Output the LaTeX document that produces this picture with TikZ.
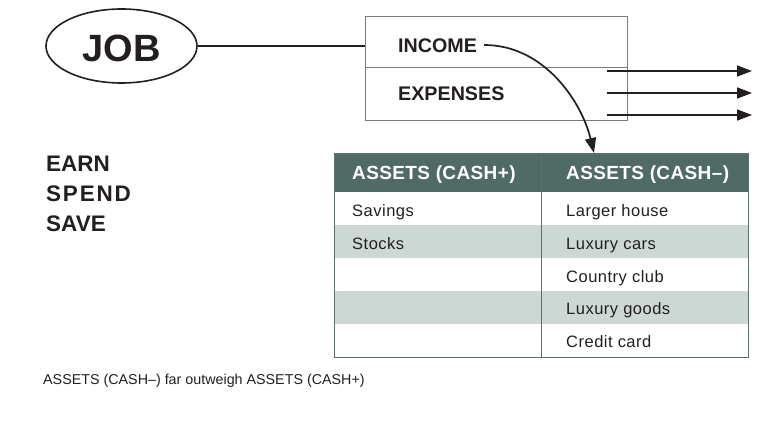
\documentclass[tikz,border=0pt]{standalone}
\usepackage{fontspec}
\setmainfont{Liberation Sans}
\usetikzlibrary{arrows.meta,shapes.geometric}
\definecolor{ink}{HTML}{231F20}
\definecolor{hdrfill}{HTML}{506B66}
\definecolor{band}{HTML}{CDD8D5}
\definecolor{boxline}{HTML}{7A7A7A}
\definecolor{tabline}{HTML}{5E706C}
\tikzset{
  lbl/.style={anchor=base west, inner sep=0pt, text=ink},
  bigbold/.style={lbl, font=\fontsize{22.5}{24}\selectfont\bfseries},
  rowlbl/.style={lbl, font=\fontsize{19.7}{22}\selectfont\bfseries},
  hdrlbl/.style={anchor=base west, inner sep=0pt, text=white, font=\fontsize{19}{22}\selectfont\bfseries\addfontfeature{LetterSpace=2}},
  celllbl/.style={lbl, font=\fontsize{16.5}{19}\selectfont\addfontfeature{LetterSpace=3}},
  rowbox/.style={draw=boxline, line width=0.8pt, minimum width=262pt, anchor=north west, inner sep=0pt},
  hdrcell/.style={fill=hdrfill, minimum width=207pt, minimum height=39pt, anchor=north west, inner sep=0pt},
  cell/.style={minimum width=207pt, minimum height=33pt, anchor=north west, inner sep=0pt},
  bandcell/.style={cell, fill=band},
  conn/.style={draw=ink, line width=1.7pt},
  flow/.style={conn, -{Triangle[length=15pt,width=11pt]}},
}
\begin{document}
\begin{tikzpicture}[x=1pt,y=-1pt]
\useasboundingbox (0,0) rectangle (777,425);
\fill[white] (0,0) rectangle (777,425);

% JOB
\node[ellipse, draw=ink, line width=1.6pt, minimum width=151pt, minimum height=74pt, inner sep=0pt] (job) at (121.5,46) {};
\node[lbl, anchor=base, font=\fontsize{38}{40}\selectfont\bfseries] (jobtxt) at (121.5,62) {JOB};

% income / expenses box
\node[rowbox, minimum height=51pt] (incbox) at (365,16) {};
\node[rowbox, minimum height=53pt] (expbox) at (365,67) {};
\node[rowlbl] (income) at (398,53) {INCOME};
\node[rowlbl] (expenses) at (398,101) {EXPENSES};

\draw[conn] (job.east) -- (job.east -| incbox.west);

% table
\node[hdrcell] (h1) at (334,153) {};
\node[hdrcell] (h2) at (541,153) {};
\node[cell] (a1) at (334,192) {};
\node[cell] (b1) at (541,192) {};
\node[bandcell] (a2) at (334,225) {};
\node[bandcell] (b2) at (541,225) {};
\node[cell] (a3) at (334,258) {};
\node[cell] (b3) at (541,258) {};
\node[bandcell] (a4) at (334,291) {};
\node[bandcell] (b4) at (541,291) {};
\node[cell] (a5) at (334,324) {};
\node[cell] (b5) at (541,324) {};
\draw[tabline, line width=0.9pt] (h1.north west) rectangle (b5.south east);
\draw[tabline, line width=0.9pt] (h2.north west) -- (b5.south west);

\node[hdrlbl] at (352,179) {ASSETS (CASH+)};
\node[hdrlbl] at (566,179) {ASSETS (CASH–)};
\node[celllbl] at (352,216) {Savings};
\node[celllbl] at (352,249) {Stocks};
\node[celllbl] at (566,216) {Larger house};
\node[celllbl] at (566,249) {Luxury cars};
\node[celllbl] at (566,282) {Country club};
\node[celllbl] at (566,314) {Luxury goods};
\node[celllbl] at (566,347) {Credit card};

% income arrow
\draw[flow] ([xshift=7pt]income.east |- 0,45) .. controls (545,45) and (582,103) .. ([xshift=53pt]h2.north west);

% expense arrows
\coordinate (e1) at (607,71);
\coordinate (e2) at (607,93);
\coordinate (e3) at (607,115);
\coordinate (f1) at (752,71);
\coordinate (f2) at (752,93);
\coordinate (f3) at (752,115);
\draw[flow] (e1) -- (f1);
\draw[flow] (e2) -- (f2);
\draw[flow] (e3) -- (f3);

% left words
\node[bigbold] (earn) at (46,172) {EARN};
\node[bigbold, font=\fontsize{22.5}{24}\selectfont\bfseries\addfontfeature{LetterSpace=8}] (spend) at (46,201) {SPEND};
\node[bigbold] (save) at (46,231) {SAVE};

% caption
\node[lbl, font=\fontsize{14.3}{16}\selectfont] (cap) at (43,384) {ASSETS (CASH–) far outweigh ASSETS (CASH+)};
\end{tikzpicture}
\end{document}
